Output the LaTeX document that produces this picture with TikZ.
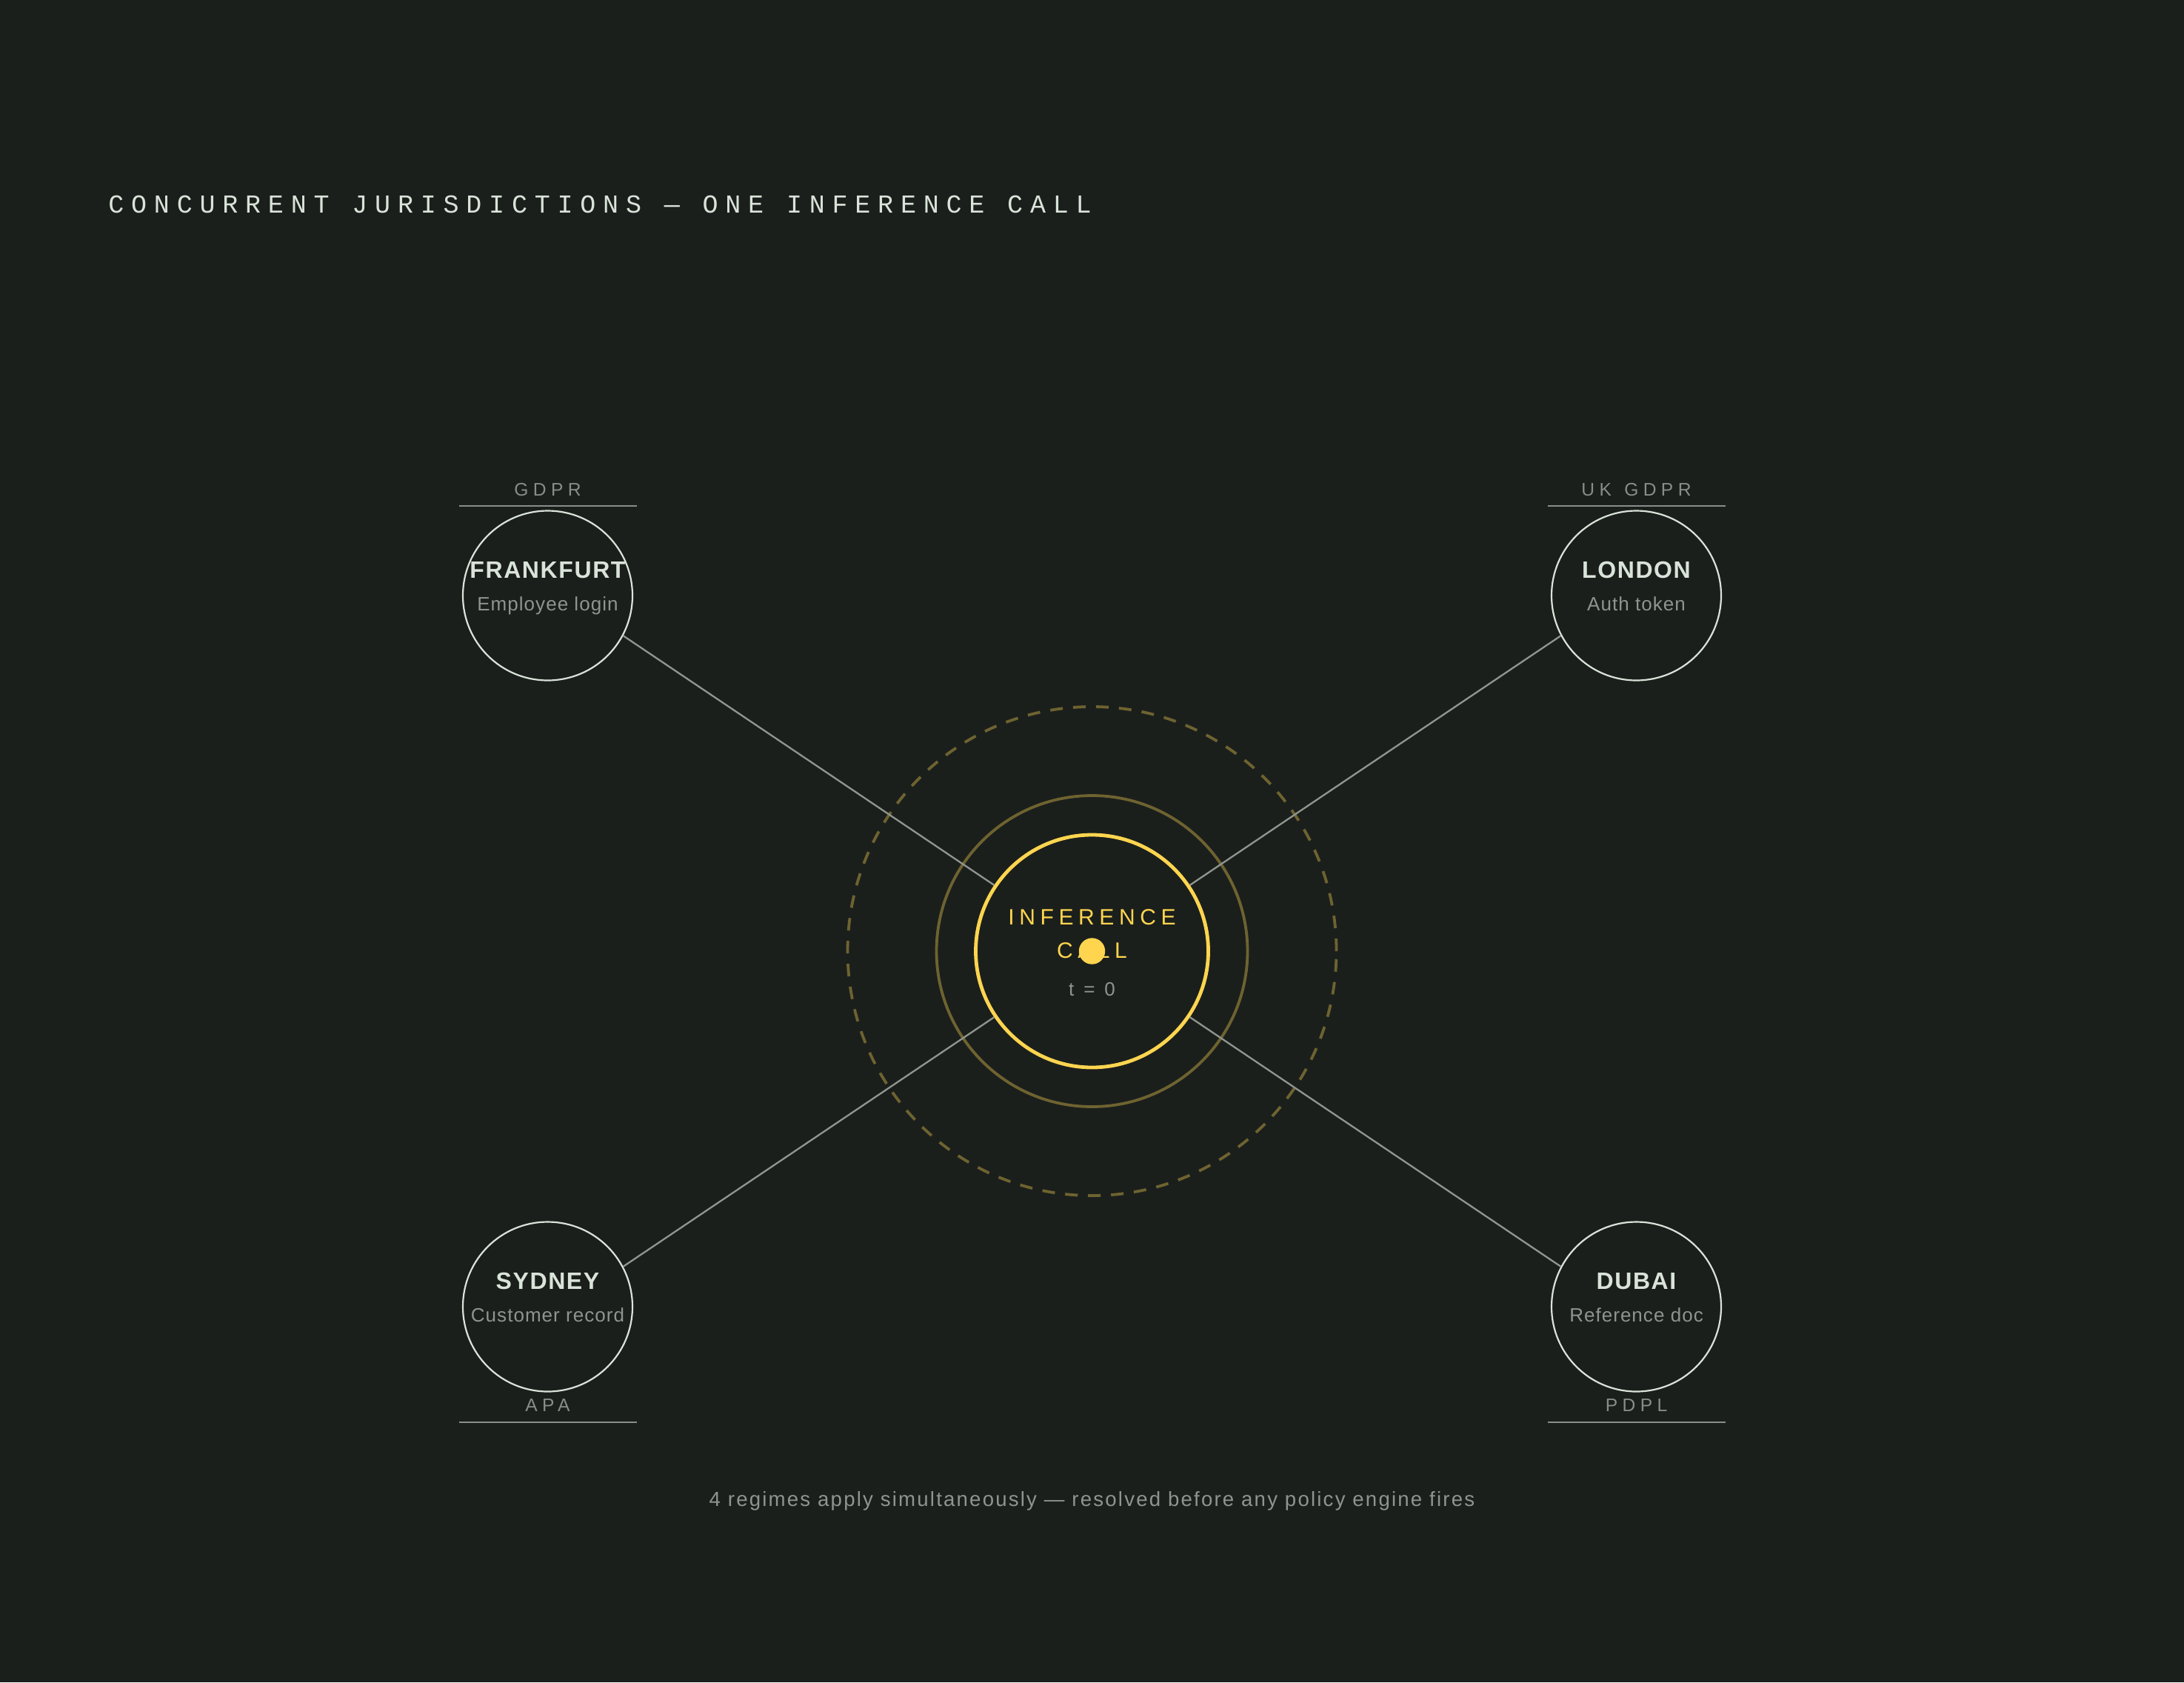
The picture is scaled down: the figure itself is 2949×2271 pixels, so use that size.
\documentclass[tikz,border=0pt]{standalone}
\usepackage{fontspec}
\setmainfont{Liberation Sans}
\newfontfamily\titlefont[LetterSpace=28]{Liberation Mono}
\newfontfamily\lblfont[LetterSpace=26]{Liberation Sans}
\newfontfamily\cityfont[LetterSpace=5]{Liberation Sans}
\newfontfamily\subfont[LetterSpace=4]{Liberation Sans}
\newfontfamily\infont[LetterSpace=22]{Liberation Sans}
\newfontfamily\tfont[LetterSpace=22]{Liberation Sans}
\newfontfamily\footfont[LetterSpace=8]{Liberation Sans}
\definecolor{bg}{HTML}{1B1F1C}
\definecolor{pale}{HTML}{D9E3D9}
\definecolor{subgray}{HTML}{8E958E}
\definecolor{lblgray}{HTML}{878E87}
\definecolor{wire}{HTML}{8F968F}
\definecolor{gold}{HTML}{FFD54F}
\definecolor{dimgold}{HTML}{6E6330}
\tikzset{
  city/.style={circle, draw=pale, line width=1.1pt, minimum size=114.5pt, inner sep=0pt},
  core/.style={circle, draw=gold, line width=2.4pt, minimum size=157pt, inner sep=0pt},
  cityname/.style={anchor=base, text=pale, font=\cityfont\fontsize{16pt}{19pt}\selectfont\bfseries, inner sep=0pt},
  citysub/.style={anchor=base, text=subgray, font=\subfont\fontsize{13pt}{15pt}\selectfont, inner sep=0pt},
  regime/.style={anchor=base, text=lblgray, font=\lblfont\fontsize{12.3pt}{14pt}\selectfont, inner sep=0pt},
  rule/.style={draw=lblgray, line width=1pt},
  wireline/.style={draw=wire, line width=1.15pt},
  coretext/.style={anchor=base, text=gold, font=\infont\fontsize{15pt}{18pt}\selectfont, inner sep=0pt},
}
\begin{document}
\begin{tikzpicture}[x=0.5pt,y=-0.5pt]
\fill[bg] (0,0) rectangle (2949,2271);
\useasboundingbox (0,0) rectangle (2949,2271);

% title
\node[anchor=base west, text=pale, font=\titlefont\fontsize{17.5pt}{21pt}\selectfont, inner sep=0pt] (title) at (146,287) {CONCURRENT JURISDICTIONS — ONE INFERENCE CALL};

% rings
\coordinate (c) at (1474.5,1284);
\draw[dimgold, line width=1.9pt, dash pattern=on 8.5pt off 7pt] (c) circle[radius=165pt];
\draw[dimgold, line width=1.9pt] (c) circle[radius=105pt];

% nodes
\node[core] (ic) at (c) {};
\node[city] (fra) at (739.5,804) {};
\node[city] (lon) at (2209.5,804) {};
\node[city] (syd) at (739.5,1764) {};
\node[city] (dub) at (2209.5,1764) {};

% connectors
\draw[wireline] (fra.-28) -- (ic.146);
\draw[wireline] (lon.208) -- (ic.34);
\draw[wireline] (syd.28) -- (ic.214);
\draw[wireline] (dub.152) -- (ic.326);

% city texts
\node[cityname] (fran) at (739.5,780) {FRANKFURT};
\node[citysub] (fras) at (739.5,824) {Employee login};
\node[cityname] (lonn) at (2209.5,780) {LONDON};
\node[citysub] (lons) at (2209.5,824) {Auth token};
\node[cityname] (sydn) at (739.5,1740) {SYDNEY};
\node[citysub] (syds) at (739.5,1784) {Customer record};
\node[cityname] (dubn) at (2209.5,1740) {DUBAI};
\node[citysub] (dubs) at (2209.5,1784) {Reference doc};

% regimes
\node[regime] (gdpr) at (739.5,669) {GDPR};
\coordinate (gdprl) at (619.5,683); \coordinate (gdprr) at (859.5,683);
\draw[rule] (gdprl) -- (gdprr);
\node[regime] (ukgdpr) at (2209.5,669) {UK\hspace{2pt} GDPR};
\coordinate (ukl) at (2089.5,683); \coordinate (ukr) at (2329.5,683);
\draw[rule] (ukl) -- (ukr);
\node[regime] (apa) at (739.5,1905) {APA};
\coordinate (apal) at (619.5,1920); \coordinate (apar) at (859.5,1920);
\draw[rule] (apal) -- (apar);
\node[regime] (pdpl) at (2209.5,1905) {PDPL};
\coordinate (pdl) at (2089.5,1920); \coordinate (pdr) at (2329.5,1920);
\draw[rule] (pdl) -- (pdr);

% core text
\node[coretext] (inf) at (1474.5,1248) {INFERENCE};
\node[coretext] (call) at (1474.5,1293) {CALL};
\node[anchor=base, text=subgray, font=\tfont\fontsize{13pt}{15pt}\selectfont, inner sep=0pt] (t0) at (1474.5,1344) {t = 0};
\fill[gold] (c) circle[radius=8.85pt];

% footer
\node[anchor=base, text=subgray, font=\footfont\fontsize{13.8pt}{16pt}\selectfont, inner sep=0pt] (foot) at (1474.5,2033) {4 regimes apply simultaneously — resolved before any policy engine fires};
\end{tikzpicture}
\end{document}
